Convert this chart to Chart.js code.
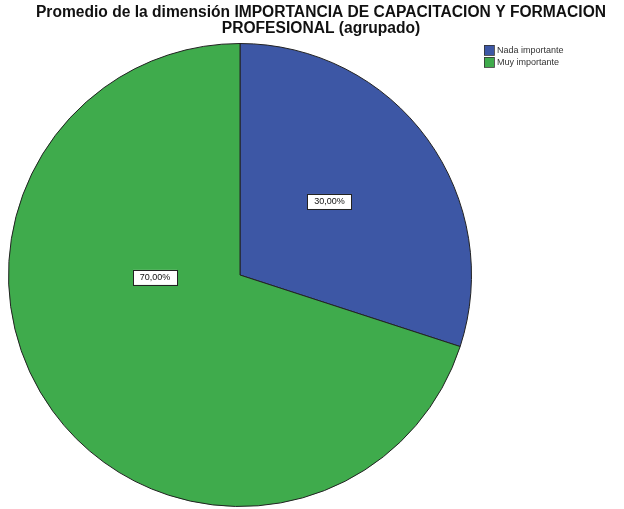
<!DOCTYPE html>
<html>
<head>
<meta charset="utf-8">
<script src="https://cdn.jsdelivr.net/npm/chart.js@4"></script>
<style>
  html, body { margin: 0; padding: 0; background: #fff; }
  #wrap { width: 624px; height: 509px; position: relative; }
</style>
</head>
<body>
<div id="wrap"><canvas id="pie-chart"></canvas></div>
<script>
const categories = ["Nada importante", "Muy importante"];
const percentages = [30, 70];
const sliceColors = ["#3d57a5", "#3fab4c"];
const titleLines = [
  "Promedio de la dimensión IMPORTANCIA DE CAPACITACION Y FORMACION",
  "PROFESIONAL (agrupado)"
];

// title, legend and value boxes drawn by hand to mimic the SPSS look
const spssDecor = {
  id: 'spssDecor',
  afterDraw(chart) {
    const ctx = chart.ctx;
    ctx.save();
    ctx.fillStyle = '#111';
    ctx.font = 'bold 15.6px "Liberation Sans", Arial, sans-serif';
    ctx.textAlign = 'center';
    ctx.textBaseline = 'middle';
    ctx.fillText(titleLines[0], 321, 13);
    ctx.fillText(titleLines[1], 321, 29);

    // legend
    ctx.textAlign = 'left';
    ctx.font = '9px "Liberation Sans Narrow", "Liberation Sans", Arial, sans-serif';
    categories.forEach((c, i) => {
      const y = 45 + i * 12;
      ctx.fillStyle = sliceColors[i];
      ctx.fillRect(484, y, 10, 10);
      ctx.strokeStyle = '#333';
      ctx.lineWidth = 0.8;
      ctx.strokeRect(484.5, y + 0.5, 10, 10);
      ctx.fillStyle = '#333';
      ctx.fillText(c, 497, y + 5.5);
    });

    // value labels (angle offset in rad, radius fraction)
    const meta = chart.getDatasetMeta(0);
    const placement = [[-0.06, 0.5], [0.6, 0.367]];
    ctx.font = '9px "Liberation Sans", Arial, sans-serif';
    ctx.textAlign = 'center';
    meta.data.forEach((arc, i) => {
      const mid = (arc.startAngle + arc.endAngle) / 2 + placement[i][0];
      const r = arc.outerRadius * placement[i][1];
      const x = arc.x + Math.cos(mid) * r;
      const y = arc.y + Math.sin(mid) * r;
      const txt = percentages[i].toFixed(2).replace('.', ',') + '%';
      const w = 44, h = 15;
      ctx.fillStyle = '#fff';
      ctx.fillRect(x - w / 2, y - h / 2, w, h);
      ctx.strokeStyle = '#222';
      ctx.lineWidth = 1;
      ctx.strokeRect(Math.round(x - w / 2) + 0.5, Math.round(y - h / 2) + 0.5, w, h);
      ctx.fillStyle = '#111';
      ctx.fillText(txt, x, y + 0.5);
    });
    ctx.restore();
  }
};

const ctx = document.getElementById('pie-chart').getContext('2d');
new Chart(ctx, {
  type: 'pie',
  data: {
    labels: categories,
    datasets: [{
      data: percentages,
      backgroundColor: sliceColors,
      borderColor: '#222',
      borderWidth: 1
    }]
  },
  options: {
    responsive: true,
    maintainAspectRatio: false,
    animation: false,
    layout: { padding: { left: 8, right: 152, top: 43, bottom: 2 } },
    plugins: {
      legend: { display: false },
      title: { display: false },
      tooltip: { enabled: false }
    }
  },
  plugins: [spssDecor]
});
</script>
</body>
</html>
